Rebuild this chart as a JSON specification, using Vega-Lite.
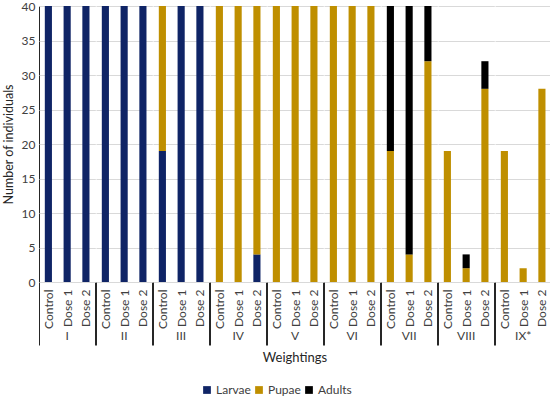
{
  "$schema": "https://vega.github.io/schema/vega-lite/v6.json",
  "padding": {"left": 2, "top": 0, "right": 1, "bottom": 0},
  "background": "white",
  "data": {"values": [
    {"w": "I", "t": "Control", "s": "Larvae", "n": 40},
    {"w": "I", "t": "Dose 1", "s": "Larvae", "n": 40},
    {"w": "I", "t": "Dose 2", "s": "Larvae", "n": 40},
    {"w": "II", "t": "Control", "s": "Larvae", "n": 40},
    {"w": "II", "t": "Dose 1", "s": "Larvae", "n": 40},
    {"w": "II", "t": "Dose 2", "s": "Larvae", "n": 40},
    {"w": "III", "t": "Control", "s": "Larvae", "n": 19},
    {"w": "III", "t": "Control", "s": "Pupae", "n": 21},
    {"w": "III", "t": "Dose 1", "s": "Larvae", "n": 40},
    {"w": "III", "t": "Dose 2", "s": "Larvae", "n": 40},
    {"w": "IV", "t": "Control", "s": "Pupae", "n": 40},
    {"w": "IV", "t": "Dose 1", "s": "Pupae", "n": 40},
    {"w": "IV", "t": "Dose 2", "s": "Larvae", "n": 4},
    {"w": "IV", "t": "Dose 2", "s": "Pupae", "n": 36},
    {"w": "V", "t": "Control", "s": "Pupae", "n": 40},
    {"w": "V", "t": "Dose 1", "s": "Pupae", "n": 40},
    {"w": "V", "t": "Dose 2", "s": "Pupae", "n": 40},
    {"w": "VI", "t": "Control", "s": "Pupae", "n": 40},
    {"w": "VI", "t": "Dose 1", "s": "Pupae", "n": 40},
    {"w": "VI", "t": "Dose 2", "s": "Pupae", "n": 40},
    {"w": "VII", "t": "Control", "s": "Pupae", "n": 19},
    {"w": "VII", "t": "Control", "s": "Adults", "n": 21},
    {"w": "VII", "t": "Dose 1", "s": "Pupae", "n": 4},
    {"w": "VII", "t": "Dose 1", "s": "Adults", "n": 36},
    {"w": "VII", "t": "Dose 2", "s": "Pupae", "n": 32},
    {"w": "VII", "t": "Dose 2", "s": "Adults", "n": 8},
    {"w": "VIII", "t": "Control", "s": "Pupae", "n": 19},
    {"w": "VIII", "t": "Dose 1", "s": "Pupae", "n": 2},
    {"w": "VIII", "t": "Dose 1", "s": "Adults", "n": 2},
    {"w": "VIII", "t": "Dose 2", "s": "Pupae", "n": 28},
    {"w": "VIII", "t": "Dose 2", "s": "Adults", "n": 4},
    {"w": "IX*", "t": "Control", "s": "Pupae", "n": 19},
    {"w": "IX*", "t": "Dose 1", "s": "Pupae", "n": 2},
    {"w": "IX*", "t": "Dose 2", "s": "Pupae", "n": 28}
  ]},
  "transform": [
    {"calculate": "datum.s === 'Larvae' ? 0 : (datum.s === 'Pupae' ? 1 : 2)", "as": "stackOrder"}
  ],
  "facet": {
    "column": {
      "field": "w",
      "type": "ordinal",
      "sort": ["I", "II", "III", "IV", "V", "VI", "VII", "VIII", "IX*"],
      "title": "Weightings",
      "header": {
        "labelOrient": "bottom",
        "titleOrient": "bottom",
        "labelFont": "Lato",
        "labelFontSize": 12,
        "labelColor": "#404040",
        "labelPadding": -15,
        "titleFont": "Lato",
        "titleFontSize": 13,
        "titleFontWeight": "normal",
        "titleColor": "#262626",
        "titlePadding": -4
      }
    }
  },
  "spacing": 0,
  "spec": {
    "width": 56.3,
    "height": 276,
    "mark": {"type": "bar", "width": {"band": 0.38}},
    "encoding": {
      "x": {
        "field": "t",
        "type": "nominal",
        "sort": ["Control", "Dose 1", "Dose 2"],
        "scale": {"paddingInner": 0, "paddingOuter": 0},
        "axis": {
          "title": null,
          "labelAngle": -90,
          "labelFont": "Lato",
          "labelFontSize": 12,
          "labelColor": "#404040",
          "labelPadding": -56,
          "domainColor": "#262626",
          "tickBand": "extent",
          "tickColor": "#262626",
          "tickSize": 63,
          "tickOpacity": {"condition": {"test": "datum.value === 'Dose 2' || datum.extra", "value": 1}, "value": 0},
          "grid": false
        }
      },
      "y": {
        "field": "n",
        "type": "quantitative",
        "stack": "zero",
        "scale": {"domain": [0, 40]},
        "axis": {
          "title": "Number of individuals",
          "titleFont": "Lato",
          "titleFontSize": 12.5,
          "titleFontWeight": "normal",
          "titleColor": "#262626",
          "titlePadding": 6,
          "labelFont": "Lato",
          "labelFontSize": 12,
          "labelColor": "#404040",
          "values": [0, 5, 10, 15, 20, 25, 30, 35, 40],
          "ticks": false,
          "labelPadding": 4,
          "domainColor": "#262626",
          "gridColor": "#d9d9d9"
        }
      },
      "order": {"field": "stackOrder", "type": "quantitative"},
      "color": {
        "field": "s",
        "type": "nominal",
        "scale": {"domain": ["Larvae", "Pupae", "Adults"], "range": ["#0f2466", "#bf8f00", "#000000"]},
        "legend": {
          "title": null,
          "orient": "none",
          "legendX": 162,
          "legendY": 378,
          "direction": "horizontal",
          "symbolType": "square",
          "symbolSize": 60,
          "labelOffset": 3,
          "labelFont": "Lato",
          "labelFontSize": 12,
          "labelColor": "#404040",
          "columnPadding": 2
        }
      }
    }
  },
  "config": {"view": {"stroke": null}}
}
